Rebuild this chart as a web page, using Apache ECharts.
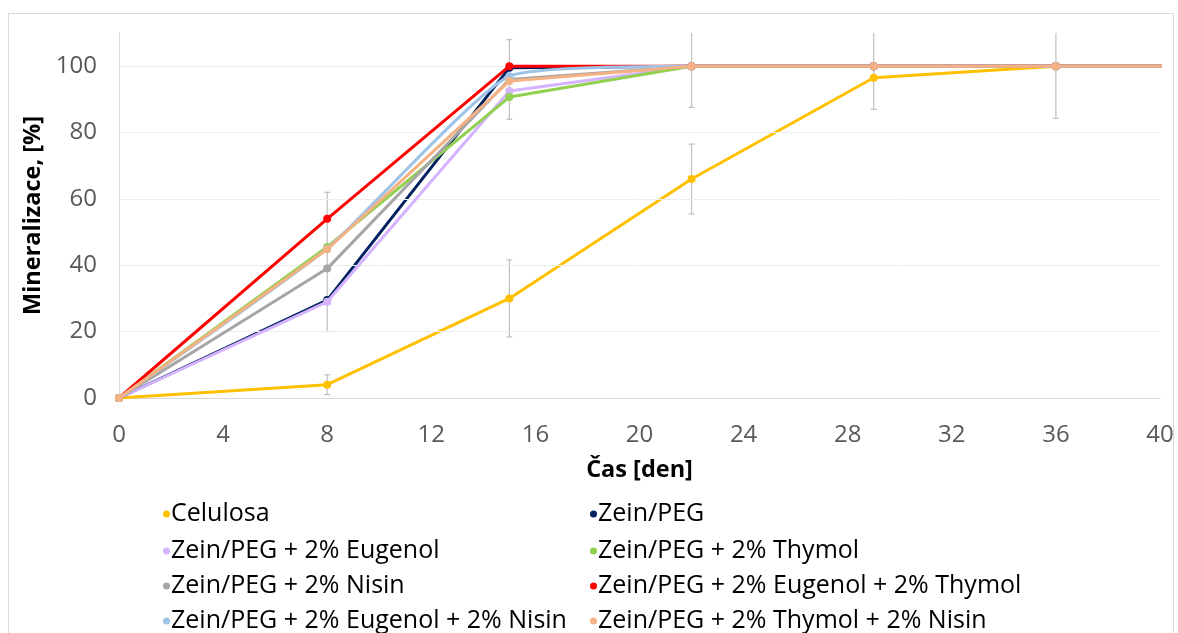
<!DOCTYPE html>
<html><head><meta charset="utf-8">
<script src="https://cdn.jsdelivr.net/npm/echarts@6/dist/echarts.min.js"></script>
<style>html,body{margin:0;padding:0;background:#fff}#c{width:1178px;height:633px}</style>
</head><body><div id="c"></div>
<script>
const days = [0, 8, 15, 22, 29, 36, 43];
const seriesNames = ["Celulosa","Zein/PEG","Zein/PEG + 2% Eugenol","Zein/PEG + 2% Thymol","Zein/PEG + 2% Nisin","Zein/PEG + 2% Eugenol + 2% Thymol","Zein/PEG + 2% Eugenol + 2% Nisin","Zein/PEG + 2% Thymol + 2% Nisin"];
const celulosa = [0, 4, 30, 66, 96.5, 100, 100];
const zeinPeg = [0, 29.5, 99.5, 100, 100, 100, 100];
const eugenol = [0, 29, 92.5, 100, 100, 100, 100];
const thymol = [0, 45.5, 90.7, 100, 100, 100, 100];
const nisin = [0, 39, 96, 100, 100, 100, 100];
const eugThy = [0, 54, 100, 100, 100, 100, 100];
const eugNis = [0, 45, 97, 100, 100, 100, 100];
const thyNis = [0, 44.8, 95.5, 100, 100, 100, 100];
const colors = ["#FFC000","#002060","#D5B3FF","#92D050","#A6A6A6","#FF0000","#9DC3E6","#F4B183"];
const smoothFlags = [0, 0, 0, 0, 0, 0, 0.15, 0];
// error bars: x, center, +/- error
const errX = [8, 8, 15, 15, 22, 22, 29, 36];
const errMid = [4, 41, 30, 96, 66, 100, 100, 100];
const errVal = [3, 21, 11.6, 12, 10.5, 12.4, 13, 15.7];
const yTicks = [0, 20, 40, 60, 80, 100];

const allData = [celulosa, zeinPeg, eugenol, thymol, nisin, eugThy, eugNis, thyNis];
const FONT = "Open Sans";
const chart = echarts.init(document.getElementById('c'));
const lineSeries = allData.map((arr, i) => ({
  name: seriesNames[i], type: 'line', data: days.map((d, k) => [d, arr[k]]),
  smooth: smoothFlags[i] || false, symbol: 'circle', symbolSize: 8,
  lineStyle: {width: 3, color: colors[i]}, itemStyle: {color: colors[i]},
  clip: true, z: 3 + i, animation: false
}));
const errSeries = {
  type: 'custom', name: 'err', silent: true, clip: true, z: 2, animation: false,
  data: errX.map((x, i) => [x, errMid[i] - errVal[i], errMid[i] + errVal[i]]),
  renderItem: function(params, api) {
    const lo = api.coord([api.value(0), api.value(1)]);
    const hi = api.coord([api.value(0), api.value(2)]);
    const st = {stroke: '#BFBFBF', lineWidth: 1.2};
    return {type: 'group', children: [
      {type: 'line', shape: {x1: lo[0], y1: lo[1], x2: hi[0], y2: hi[1]}, style: st},
      {type: 'line', shape: {x1: lo[0]-3, y1: lo[1], x2: lo[0]+3, y2: lo[1]}, style: st},
      {type: 'line', shape: {x1: hi[0]-3, y1: hi[1], x2: hi[0]+3, y2: hi[1]}, style: st}
    ]};
  }
};
const gridSeries = {
  type: 'line', data: [], silent: true, animation: false,
  markLine: {silent: true, symbol: 'none', label: {show: false},
    lineStyle: {color: '#EDEDED', type: 'solid', width: 1},
    data: yTicks.slice(1).map(v => ({yAxis: v}))}
};
const rowTops = [499, 536, 571, 606];
const legends = seriesNames.map((n, i) => ({
  data: [n], left: i % 2 === 0 ? 163 : 590, top: rowTops[Math.floor(i / 2)],
  padding: 0, icon: 'circle', itemWidth: 7, itemHeight: 7, selectedMode: false,
  textStyle: {fontFamily: FONT, fontSize: 25, color: '#000', padding: [0, 0, 0, -4], lineHeight: 30}
}));
chart.setOption({
  backgroundColor: '#fff',
  animation: false,
  graphic: [{type: 'rect', shape: {x: 8.5, y: 13.5, width: 1165, height: 640}, style: {fill: 'none', stroke: '#D9D9D9', lineWidth: 1}, silent: true}],
  grid: {left: 119, right: 18, top: 33, bottom: 235},
  legend: legends,
  xAxis: {type: 'value', min: 0, max: 40, interval: 4,
    name: 'Čas [den]', nameLocation: 'middle', nameGap: 60,
    nameTextStyle: {fontFamily: FONT, fontSize: 23.5, fontWeight: 'bold', color: '#000'},
    axisLine: {show: true, lineStyle: {color: '#D9D9D9', width: 1}}, axisTick: {show: false},
    axisLabel: {fontFamily: FONT, fontSize: 24, color: '#595959', margin: 25},
    splitLine: {show: false}},
  yAxis: {type: 'value', min: 0, max: 110, interval: 20,
    name: 'Mineralizace, [%]', nameLocation: 'middle', nameGap: 72,
    nameTextStyle: {fontFamily: FONT, fontSize: 23.5, fontWeight: 'bold', color: '#000'},
    axisLine: {show: true, lineStyle: {color: '#D9D9D9', width: 1}}, axisTick: {show: false},
    axisLabel: {fontFamily: FONT, fontSize: 24, color: '#595959', margin: 22, showMaxLabel: false,
      formatter: v => (v > 100 ? '' : String(v))},
    splitLine: {show: false}},
  series: [gridSeries, errSeries].concat(lineSeries)
});
</script></body></html>
